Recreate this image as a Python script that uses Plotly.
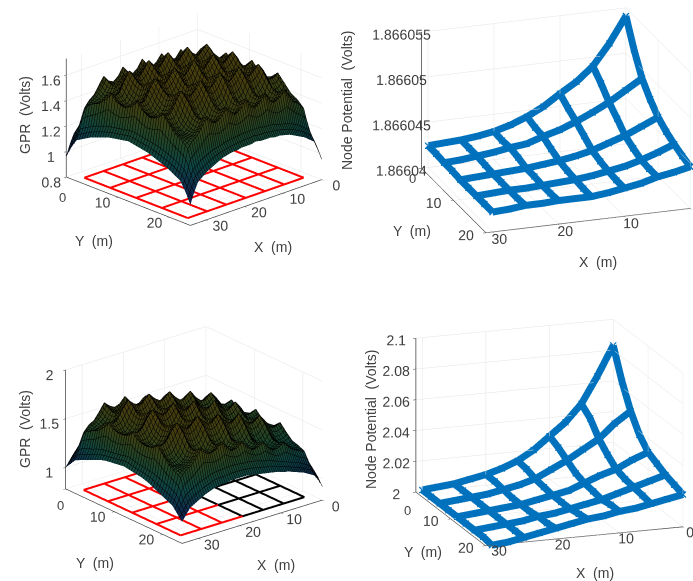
import plotly.graph_objects as go

# ---- left-hand surfaces (GPR, Volts) ----
surf_x = [0,1,2,3.25,4.5,5.75,7,8.25,9.5,10.75,12,13.25,14.5,15.75,17,18.25,19.5,20.75,22,23.25,24.5,25.75,27,28.25,29.5,30.75,32,33,34]
surf_y = [0,1,2,3.25,4.5,5.75,7,8.25,9.5,10.75,12,13.25,14.5,15.75,17,18.25,19.5,20.75,22,23,24]
r0=[.96,1.05,1.12,1.15,1.18,1.20,1.22,1.24,1.25,1.26,1.26,1.27,1.27,1.27,1.28,1.27,1.27,1.27,1.26,1.26,1.25,1.24,1.22,1.20,1.18,1.15,1.12,1.05,.96]
r1=[1.05,1.12,1.20,1.23,1.26,1.28,1.30,1.31,1.32,1.33,1.34,1.34,1.35,1.35,1.35,1.35,1.35,1.34,1.34,1.33,1.32,1.31,1.30,1.28,1.26,1.23,1.20,1.12,1.05]
r2=[1.12,1.20,1.35,1.40,1.43,1.49,1.55,1.50,1.48,1.51,1.57,1.52,1.49,1.52,1.58,1.52,1.49,1.52,1.57,1.51,1.48,1.50,1.55,1.49,1.43,1.40,1.35,1.20,1.12]
r3=[1.15,1.23,1.40,1.40,1.41,1.44,1.51,1.46,1.44,1.47,1.53,1.47,1.45,1.47,1.54,1.47,1.45,1.47,1.53,1.47,1.44,1.46,1.51,1.44,1.41,1.40,1.40,1.23,1.15]
r4=[1.18,1.26,1.43,1.41,1.41,1.45,1.53,1.45,1.43,1.46,1.55,1.46,1.44,1.46,1.56,1.46,1.44,1.46,1.55,1.46,1.43,1.45,1.53,1.45,1.41,1.41,1.43,1.26,1.18]
r5=[1.20,1.28,1.49,1.45,1.44,1.50,1.61,1.53,1.49,1.54,1.63,1.54,1.51,1.54,1.64,1.54,1.51,1.54,1.63,1.54,1.49,1.53,1.61,1.50,1.44,1.45,1.49,1.28,1.20]
r6=[1.22,1.30,1.55,1.52,1.53,1.61,1.67,1.63,1.61,1.64,1.70,1.65,1.62,1.65,1.71,1.65,1.62,1.65,1.70,1.64,1.61,1.63,1.67,1.61,1.53,1.52,1.55,1.30,1.22]
r7=[1.24,1.31,1.50,1.47,1.47,1.53,1.62,1.55,1.52,1.56,1.65,1.56,1.53,1.56,1.66,1.56,1.53,1.56,1.65,1.56,1.52,1.55,1.62,1.53,1.47,1.47,1.50,1.31,1.24]
r8=[1.25,1.32,1.48,1.45,1.45,1.50,1.60,1.52,1.48,1.52,1.62,1.53,1.50,1.53,1.63,1.53,1.50,1.53,1.62,1.52,1.48,1.52,1.60,1.50,1.45,1.45,1.48,1.32,1.25]
r9=[1.26,1.33,1.51,1.48,1.48,1.54,1.63,1.56,1.53,1.57,1.66,1.57,1.54,1.57,1.67,1.57,1.54,1.57,1.66,1.57,1.53,1.56,1.63,1.54,1.48,1.48,1.51,1.33,1.26]
r10=[1.27,1.34,1.57,1.54,1.55,1.63,1.69,1.65,1.63,1.66,1.72,1.67,1.64,1.67,1.73,1.67,1.64,1.67,1.72,1.66,1.63,1.65,1.69,1.63,1.55,1.54,1.57,1.34,1.27]
gpr_top = [r0,r1,r2,r3,r4,r5,r6,r7,r8,r9,r10,r9,r8,r7,r6,r5,r4,r3,r2,r1,r0]

c0=[.92,1.00,1.06,1.09,1.12,1.14,1.16,1.18,1.19,1.21,1.22,1.23,1.24,1.25,1.26,1.27,1.27,1.27,1.27,1.26,1.26,1.25,1.23,1.21,1.18,1.15,1.12,1.06,1.00]
c1=[1.00,1.08,1.14,1.17,1.20,1.22,1.24,1.26,1.28,1.30,1.32,1.33,1.35,1.36,1.37,1.37,1.38,1.38,1.38,1.37,1.37,1.36,1.34,1.32,1.29,1.26,1.22,1.14,1.06]
c2=[1.06,1.14,1.26,1.28,1.31,1.36,1.42,1.38,1.37,1.42,1.49,1.45,1.44,1.49,1.56,1.51,1.50,1.55,1.62,1.56,1.54,1.57,1.62,1.54,1.47,1.44,1.38,1.22,1.12]
c3=[1.09,1.17,1.29,1.29,1.30,1.33,1.38,1.35,1.34,1.38,1.45,1.41,1.40,1.44,1.52,1.47,1.45,1.49,1.56,1.50,1.48,1.51,1.57,1.49,1.45,1.43,1.42,1.26,1.15]
c4=[1.12,1.20,1.31,1.30,1.30,1.33,1.40,1.34,1.33,1.37,1.46,1.40,1.39,1.43,1.53,1.45,1.44,1.48,1.58,1.48,1.46,1.49,1.58,1.47,1.43,1.43,1.46,1.28,1.18]
c5=[1.14,1.22,1.37,1.33,1.33,1.39,1.50,1.42,1.39,1.45,1.57,1.48,1.46,1.52,1.64,1.54,1.52,1.56,1.69,1.57,1.54,1.57,1.69,1.55,1.48,1.47,1.54,1.31,1.21]
c6=[1.16,1.24,1.44,1.41,1.43,1.51,1.58,1.53,1.53,1.58,1.66,1.61,1.60,1.65,1.72,1.67,1.66,1.70,1.76,1.71,1.68,1.71,1.76,1.70,1.61,1.58,1.60,1.33,1.24]
c7=[1.18,1.26,1.38,1.36,1.36,1.42,1.51,1.44,1.42,1.48,1.57,1.50,1.48,1.53,1.64,1.55,1.53,1.58,1.69,1.59,1.55,1.58,1.70,1.58,1.51,1.51,1.55,1.34,1.26]
c8=[1.19,1.28,1.37,1.35,1.34,1.39,1.49,1.41,1.38,1.44,1.55,1.47,1.44,1.50,1.62,1.52,1.49,1.54,1.67,1.55,1.52,1.55,1.68,1.55,1.49,1.50,1.54,1.35,1.27]
c9=[1.21,1.29,1.39,1.37,1.37,1.43,1.52,1.45,1.43,1.49,1.58,1.51,1.49,1.54,1.65,1.56,1.54,1.59,1.70,1.60,1.56,1.59,1.71,1.59,1.52,1.52,1.56,1.36,1.28]
c10=[1.22,1.30,1.46,1.43,1.44,1.53,1.60,1.55,1.55,1.60,1.68,1.63,1.62,1.67,1.74,1.69,1.68,1.72,1.78,1.73,1.70,1.73,1.78,1.72,1.63,1.60,1.62,1.38,1.29]
gpr_bottom = [c0,c1,c2,c3,c4,c5,c6,c7,c8,c9,c10,c9,c8,c7,c6,c5,c4,c3,c2,c1,c0]

# conductor grid lines under the surface
grid_x = [2,7,12,17,22,27,32]
grid_y = [2,7,12,17,22]

# ---- right-hand node potentials ----
node_x = [0,2.5,5,7.5,10,12.5,15,17.5,20,22.5,25,27.5,30]
node_y = [0,2.5,5,7.5,10,12.5,15,17.5,20]
# microvolts above 1.86604 V
node_top = [
 [14.1,11.3,9.0,7.5,6.4,5.2,4.3,3.6,3.1,2.8,2.6,2.5,2.4],
 [11.3,9.6,8.0,6.9,5.7,4.9,4.0,3.4,3.0,2.7,2.6,2.4,2.4],
 [9.0,7.9,6.8,5.9,5.1,4.4,3.9,3.3,3.1,2.8,2.6,2.4,2.3],
 [7.6,6.8,5.9,5.2,4.4,3.9,3.4,3.1,2.9,2.7,2.5,2.4,2.3],
 [6.5,5.7,4.9,4.3,3.7,3.3,3.0,2.8,2.6,2.5,2.4,2.3,2.2],
 [5.8,5.1,4.4,3.9,3.4,3.1,2.8,2.7,2.6,2.5,2.4,2.3,2.2],
 [5.3,4.6,4.0,3.5,3.2,2.9,2.7,2.6,2.5,2.4,2.4,2.3,2.2],
 [4.9,4.3,3.9,3.4,3.1,2.8,2.6,2.6,2.5,2.5,2.4,2.3,2.2],
 [4.6,4.2,3.9,3.4,3.1,2.8,2.6,2.6,2.6,2.5,2.5,2.3,2.2]]
# millivolts above 2 V
node_bottom = [
 [83,64,47,36,28,20,14,10,7,5,3,2,1],
 [64,54,42,33,25,19,13,10,7,5,3,2,1],
 [49,42,33,27,21,16,11,8,6,4,3,2,1],
 [38,33,27,22,17,13,10,7,5,4,3,2,1],
 [31,27,22,19,15,11,9,7,5,4,3,2,1],
 [28,24,20,17,14,11,9,7,5,4,3,2,1],
 [25,22,19,16,13,11,9,7,6,4,3,2,1],
 [23,21,18,16,14,11,10,8,6,5,3,2,1],
 [21,19,17,15,14,12,11,9,7,5,3,1,0]]

top_ticks = [0,5,10,15]
top_labels = ["1.86604","1.866045","1.86605","1.866055"]
bot_ticks = [0,20,40,60,80,100]
bot_labels = ["2","2.02","2.04","2.06","2.08","2.1"]

dark = [[0,"#2a2a9a"],[.2,"#1f5fa8"],[.38,"#1f9a96"],[.52,"#45985c"],[.68,"#7f9030"],[.85,"#98841f"],[1,"#ab9a20"]]
TXT = "#404040"
FONT = "Liberation Sans"

fig = go.Figure()

def add_surface(z, scene, zmin, zmax, eye):
    fig.add_trace(go.Surface(x=surf_x, y=surf_y, z=z, scene=scene, colorscale=dark,
        cmin=zmin, cmax=zmax, showscale=False,
        lighting=dict(ambient=.45, diffuse=.85, specular=0, roughness=1, fresnel=0),
        lightposition=dict(x=eye[0]*1e4, y=eye[1]*1e4, z=eye[2]*1e4),
        contours=dict(
            x=dict(show=True, start=0, end=34, size=0.5, color="#000000", width=1),
            y=dict(show=True, start=0, end=24, size=0.5, color="#000000", width=1))))

def add_grid(scene, z, black_upto=None):
    for gx in grid_x:
        c = "#000000" if black_upto is not None and gx <= black_upto else "#ff0000"
        fig.add_trace(go.Scatter3d(x=[gx]*len(grid_y), y=grid_y, z=[z]*len(grid_y), mode="lines",
                                   line=dict(color=c, width=4), scene=scene, showlegend=False))
    for gy in grid_y:
        if black_upto is None:
            fig.add_trace(go.Scatter3d(x=grid_x, y=[gy]*len(grid_x), z=[z]*len(grid_x), mode="lines",
                                       line=dict(color="#ff0000", width=4), scene=scene, showlegend=False))
        else:
            xb = [v for v in grid_x if v <= black_upto]
            xr = [v for v in grid_x if v >= black_upto]
            fig.add_trace(go.Scatter3d(x=xb, y=[gy]*len(xb), z=[z]*len(xb), mode="lines",
                                       line=dict(color="#000000", width=4), scene=scene, showlegend=False))
            fig.add_trace(go.Scatter3d(x=xr, y=[gy]*len(xr), z=[z]*len(xr), mode="lines",
                                       line=dict(color="#ff0000", width=4), scene=scene, showlegend=False))

def add_nodes(table, scene):
    for j in range(0, len(node_y), 2):
        fig.add_trace(go.Scatter3d(x=node_x, y=[node_y[j]]*len(node_x), z=table[j], mode="lines+markers",
            line=dict(color="#0072bd", width=14), marker=dict(symbol="x", size=1.5, color="#0072bd"),
            scene=scene, showlegend=False))
    for i in range(0, len(node_x), 2):
        fig.add_trace(go.Scatter3d(x=[node_x[i]]*len(node_y), y=node_y, z=[r[i] for r in table], mode="lines+markers",
            line=dict(color="#0072bd", width=14), marker=dict(symbol="x", size=1.5, color="#0072bd"),
            scene=scene, showlegend=False))

eye1 = (1.04,1.10,.60)
eye2 = (.50,1.45,.565)
eye3 = (.95,1.17,.62)
eye4 = (.53,1.50,.45)

add_surface(gpr_top, "scene", 0.9, 1.75, eye1)
add_grid("scene", 0.805)
add_nodes(node_top, "scene2")
add_surface(gpr_bottom, "scene3", 0.9, 1.85, eye3)
add_grid("scene3", 0.79, black_upto=17)
add_nodes(node_bottom, "scene4")

def axis(rng, tv, tt=None):
    return dict(range=rng, tickvals=tv, ticktext=tt if tt else [str(v) for v in tv], title=dict(text=""),
                showbackground=False, showgrid=True, gridcolor="#e4e4e4", gridwidth=1, tickangle=0,
                showline=True, linecolor=TXT, linewidth=1.5, zeroline=False, ticks="outside",
                ticklen=3, tickcolor=TXT, tickfont=dict(family=FONT, size=13, color=TXT),
                showspikes=False)

def scene(box, xr, yr, zr, zt, zl, eye, asp, center=(0,0,0)):
    l,t,r,b = box
    return dict(domain=dict(x=[l/693,r/693], y=[1-b/581,1-t/581]),
        xaxis=axis(xr,[0,10,20,30]), yaxis=axis(yr,[0,10,20],[" ","10","20"]), zaxis=axis(zr,zt,zl),
        aspectmode="manual", aspectratio=dict(x=asp[0],y=asp[1],z=asp[2]),
        camera=dict(projection=dict(type="orthographic"),
                    eye=dict(x=eye[0]+center[0],y=eye[1]+center[1],z=eye[2]+center[2]),
                    center=dict(x=center[0],y=center[1],z=center[2]), up=dict(x=0,y=0,z=1)))

fig.update_layout(
    width=693, height=581, margin=dict(l=0,r=0,t=0,b=0), paper_bgcolor="white", showlegend=False,
    font=dict(family=FONT, color=TXT),
    scene=scene((20,0,368,260),[0,34],[0,24],[.8,1.73],[.8,1,1.2,1.4,1.6],["0.8","1","1.2","1.4","1.6"],eye1,(1.39,1.39,.98),(0,0,-.09)),
    scene2=scene((368,0,693,250),[0,31],[0,20],[0,15],top_ticks,top_labels,eye2,(1.73,1.58,1.16),(.192,-.066,-.04)),
    scene3=scene((20,305,368,565),[0,34],[0,24],[.78,2],[1,1.5,2],["1","1.5","2"],eye3,(1.39,1.42,.99),(0,0,0)),
    scene4=scene((368,305,693,565),[0,31],[0,20],[0,100],bot_ticks,bot_labels,eye4,(1.61,1.61,1.23),(.137,-.049,-.02)),
)

def note(text, x, y, angle=0, size=14):
    fig.add_annotation(text=text, xref="paper", yref="paper", x=x/693, y=1-y/581, showarrow=False,
                       xanchor="center", yanchor="middle",
                       textangle=angle, font=dict(family=FONT, size=size, color=TXT))

note("GPR  (Volts)", 25, 115, -90)
note("Y  (m)", 94, 241)
note("X  (m)", 273, 247)
note("Node Potential  (Volts)", 347, 100, -90)
note("Y  (m)", 412, 231)
note("X  (m)", 598, 262)
note("GPR  (Volts)", 25, 429, -90)
note("Y  (m)", 95, 563)
note("X  (m)", 276, 565)
note("Node Potential  (Volts)", 371, 420, -90)
note("Y  (m)", 423, 552)
note("X  (m)", 595, 573)
# the Y axes' "0" labels sit just below each Z axis
note("0", 62, 197, size=13)
note("0", 412, 178, size=13)
note("0", 61, 505, size=13)
note("0", 407, 510, size=13)

fig.write_html("out.html", config={"displayModeBar": False},
               post_script="document.body.style.margin='0';window.dispatchEvent(new Event('resize'));")
